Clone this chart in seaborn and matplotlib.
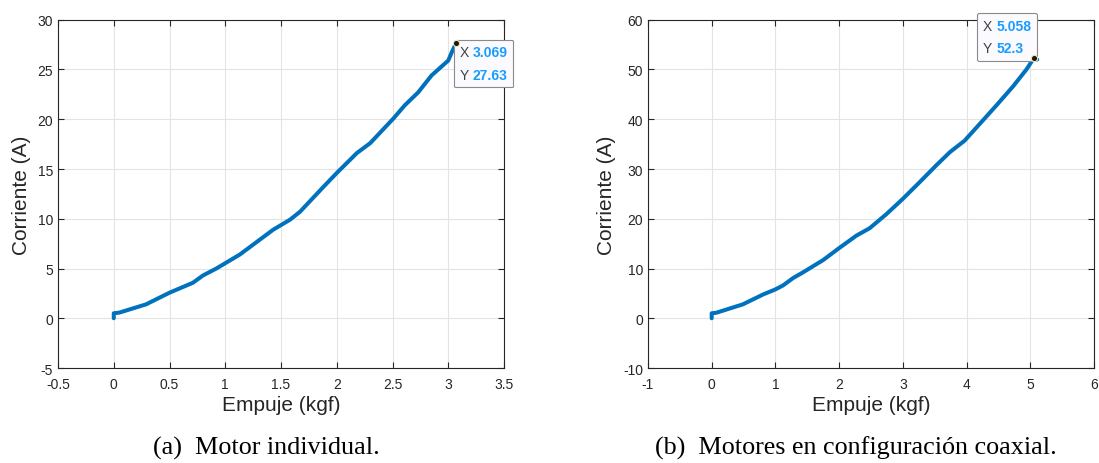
import matplotlib
matplotlib.use("Agg")
import matplotlib.pyplot as plt
from matplotlib.offsetbox import TextArea, HPacker, VPacker, AnnotationBbox
import seaborn as sns
import pandas as pd

# Single motor: thrust (kgf) vs current (A)
thrust_single = [0.0, 0.0, 0.05, 0.29, 0.50, 0.71, 0.80, 0.92, 1.13, 1.43, 1.58, 1.67,
                 1.88, 2.00, 2.18, 2.30, 2.51, 2.61, 2.73, 2.85, 3.00, 3.03, 3.069, 3.11]
current_single = [0.0, 0.5, 0.57, 1.4, 2.57, 3.57, 4.3, 5.0, 6.4, 8.9, 9.9, 10.7,
                  13.2, 14.6, 16.6, 17.6, 20.1, 21.4, 22.7, 24.4, 25.9, 26.7, 27.63, 27.55]

# Coaxial pair: thrust (kgf) vs current (A)
thrust_coax = [0.0, 0.0, 0.07, 0.49, 0.81, 1.00, 1.12, 1.28, 1.43, 1.75, 2.00, 2.27, 2.48,
               2.74, 3.00, 3.26, 3.53, 3.74, 3.97, 4.21, 4.47, 4.73, 4.94, 5.058, 5.11]
current_coax = [0.0, 1.0, 1.1, 2.8, 4.8, 5.8, 6.6, 8.1, 9.2, 11.7, 14.1, 16.6, 18.1,
                20.9, 24.0, 27.3, 30.8, 33.4, 35.7, 39.1, 42.8, 46.6, 50.0, 52.3, 52.0]

tip_single = (3.069, 27.63)
tip_coax = (5.058, 52.3)
tip_labels_single = ("3.069", "27.63")
tip_labels_coax = ("5.058", "52.3")

xticks_single = [-0.5, 0, 0.5, 1, 1.5, 2, 2.5, 3, 3.5]
yticks_single = [-5, 0, 5, 10, 15, 20, 25, 30]
xticks_coax = [-1, 0, 1, 2, 3, 4, 5, 6]
yticks_coax = [-10, 0, 10, 20, 30, 40, 50, 60]

captions = ["(a)  Motor individual.", "(b)  Motores en configuración coaxial."]

sns.set_style("white")
plt.rcParams["font.family"] = ["Liberation Sans", "DejaVu Sans"]

LINE = "#0072BD"
AX = "#262626"
TIP_BLUE = "#1a9cff"

fig = plt.figure(figsize=(10.99, 4.64), dpi=100)
ax1 = fig.add_axes([0.0528, 0.2047, 0.4058, 0.7506])
ax2 = fig.add_axes([0.5896, 0.2047, 0.4058, 0.7506])


def style_axes(ax, xt, yt):
    ax.set_xlim(xt[0], xt[-1])
    ax.set_ylim(yt[0], yt[-1])
    ax.set_xticks(xt)
    ax.set_yticks(yt)
    ax.set_xticklabels([("%g" % v) for v in xt])
    ax.set_yticklabels([("%g" % v) for v in yt])
    ax.grid(True, color="#e3e3e3", linewidth=0.8)
    ax.set_axisbelow(True)
    for s in ax.spines.values():
        s.set_color(AX)
        s.set_linewidth(0.8)
        s.set_visible(True)
    ax.tick_params(direction="in", length=4, width=0.8, colors=AX, labelsize=10,
                   top=True, right=True, bottom=True, left=True)
    ax.tick_params(axis="x", pad=6.5)
    ax.tick_params(axis="y", pad=3.5)
    ax.set_xlabel("Empuje (kgf)", fontsize=15, color=AX, labelpad=3)
    ax.set_ylabel("Corriente (A)", fontsize=15, color=AX, labelpad=5)


def datatip(ax, xy, labels, align, offset):
    rows = []
    for name, val in zip(("X", "Y"), labels):
        rows.append(HPacker(children=[
            TextArea(name, textprops=dict(color="#404040", fontsize=10)),
            TextArea(val, textprops=dict(color=TIP_BLUE, fontsize=10, fontweight="bold")),
        ], align="baseline", pad=0, sep=3))
    box = VPacker(children=rows, align="left", pad=0, sep=6)
    ab = AnnotationBbox(box, xy, xybox=offset, xycoords="data", boxcoords="offset points",
                        box_alignment=align, frameon=True, pad=0.55,
                        bboxprops=dict(boxstyle="round,pad=0.4,rounding_size=0.12",
                                       facecolor="#fafaff", edgecolor="#8a8a8a",
                                       linewidth=0.8), annotation_clip=False)
    ab.set_clip_on(False)
    ab.set_zorder(4)
    ax.add_artist(ab)
    ax.plot([xy[0]], [xy[1]], marker="o", markersize=4.5, color="#1a1a1a",
            markeredgecolor="#f2e8b0", markeredgewidth=0.8, clip_on=False, zorder=6)


df1 = pd.DataFrame({"Empuje": thrust_single, "Corriente": current_single})
df2 = pd.DataFrame({"Empuje": thrust_coax, "Corriente": current_coax})

sns.lineplot(data=df1, x="Empuje", y="Corriente", ax=ax1, sort=False, estimator=None,
             color=LINE, linewidth=2.9, solid_capstyle="round", solid_joinstyle="round")
sns.lineplot(data=df2, x="Empuje", y="Corriente", ax=ax2, sort=False, estimator=None,
             color=LINE, linewidth=2.9, solid_capstyle="round", solid_joinstyle="round")

style_axes(ax1, xticks_single, yticks_single)
style_axes(ax2, xticks_coax, yticks_coax)

datatip(ax1, tip_single, tip_labels_single, (0, 1), (2.5, -1.5))
datatip(ax2, tip_coax, tip_labels_coax, (1, 0), (-2.0, 2.0))

for xc, cap in zip((0.2425, 0.779), captions):
    fig.text(xc, 0.034, cap, ha="center", va="center",
             fontsize=18.8, family=["Liberation Serif", "DejaVu Serif"], color="black")

fig.savefig("out.png", dpi=100)
